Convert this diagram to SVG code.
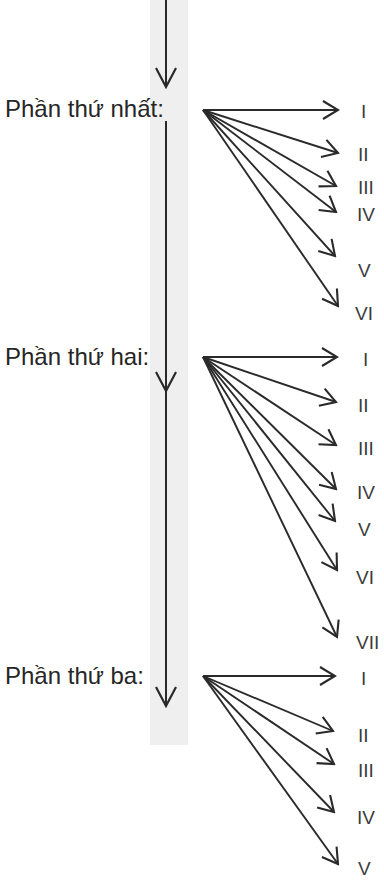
<svg xmlns="http://www.w3.org/2000/svg" width="384" height="880" viewBox="0 0 384 880">
<style>
.part{font-family:"Liberation Sans",Arial,sans-serif;font-size:24px;fill:#262626}
.num{font-family:"Liberation Sans",Arial,sans-serif;font-size:19px;fill:#3c3c3c}
.ln{stroke:#2a2a2a;stroke-width:2;fill:none}
.fan{stroke:#2a2a2a;stroke-width:1.9;fill:none;marker-end:url(#ah)}
</style>
<defs>
<marker id="ah" markerUnits="userSpaceOnUse" viewBox="-17 -11 19 22" refX="0" refY="0" markerWidth="19" markerHeight="22" orient="auto">
<path d="M-15,-9 L0,0 L-15,9" stroke="#2a2a2a" stroke-width="2.1" fill="none"/>
</marker>
<marker id="vh" markerUnits="userSpaceOnUse" viewBox="-21 -12 23 24" refX="0" refY="0" markerWidth="23" markerHeight="24" orient="auto">
<path d="M-19,-10 L0,0 L-19,10" stroke="#2a2a2a" stroke-width="2.2" fill="none"/>
</marker>
</defs>
<rect x="0" y="0" width="384" height="880" fill="#ffffff"/>
<rect id="band" x="150" y="0" width="38" height="745" fill="#efefef"/>

<g id="connectors">
<line class="ln" x1="166" y1="0" x2="166" y2="87" marker-end="url(#vh)"/>
<line class="ln" x1="166" y1="121" x2="166" y2="706" marker-end="url(#vh)"/>
<path class="ln" d="M166,370 L166,391" marker-end="url(#vh)"/>
<g id="fan1">
<line class="fan" x1="203" y1="110" x2="338" y2="110"/>
<line class="fan" x1="203" y1="110" x2="338" y2="153"/>
<line class="fan" x1="203" y1="110" x2="336" y2="186"/>
<line class="fan" x1="203" y1="110" x2="336" y2="212"/>
<line class="fan" x1="203" y1="110" x2="335" y2="256"/>
<line class="fan" x1="203" y1="110" x2="338" y2="306"/>
</g>
<g id="fan2">
<line class="fan" x1="203" y1="357" x2="337" y2="357"/>
<line class="fan" x1="203" y1="357" x2="336" y2="402"/>
<line class="fan" x1="203" y1="357" x2="336" y2="445"/>
<line class="fan" x1="203" y1="357" x2="336" y2="489"/>
<line class="fan" x1="203" y1="357" x2="335" y2="521"/>
<line class="fan" x1="203" y1="357" x2="337" y2="570"/>
<line class="fan" x1="203" y1="357" x2="337" y2="637"/>
</g>
<g id="fan3">
<line class="fan" x1="203" y1="676" x2="335" y2="676"/>
<line class="fan" x1="203" y1="676" x2="333" y2="731"/>
<line class="fan" x1="203" y1="676" x2="334" y2="764"/>
<line class="fan" x1="203" y1="676" x2="334" y2="812"/>
<line class="fan" x1="203" y1="676" x2="338" y2="864"/>
</g>
</g>

<g id="part1"><text class="part" x="5" y="117">Phần thứ nhất:</text></g>
<g id="part2"><text class="part" x="5" y="365">Phần thứ hai:</text></g>
<g id="part3"><text class="part" x="5" y="684">Phần thứ ba:</text></g>

<g id="labels1">
<text class="num" x="361" y="118">I</text>
<text class="num" x="358" y="161">II</text>
<text class="num" x="358" y="194">III</text>
<text class="num" x="357" y="221">IV</text>
<text class="num" x="358" y="277">V</text>
<text class="num" x="355" y="320">VI</text>
</g>
<g id="labels2">
<text class="num" x="363" y="366">I</text>
<text class="num" x="358" y="412">II</text>
<text class="num" x="358" y="455">III</text>
<text class="num" x="357" y="499">IV</text>
<text class="num" x="358" y="536">V</text>
<text class="num" x="356" y="584">VI</text>
<text class="num" x="356" y="649">VII</text>
</g>
<g id="labels3">
<text class="num" x="361" y="685">I</text>
<text class="num" x="358" y="742">II</text>
<text class="num" x="358" y="777">III</text>
<text class="num" x="357" y="824">IV</text>
<text class="num" x="358" y="875">V</text>
</g>
</svg>
